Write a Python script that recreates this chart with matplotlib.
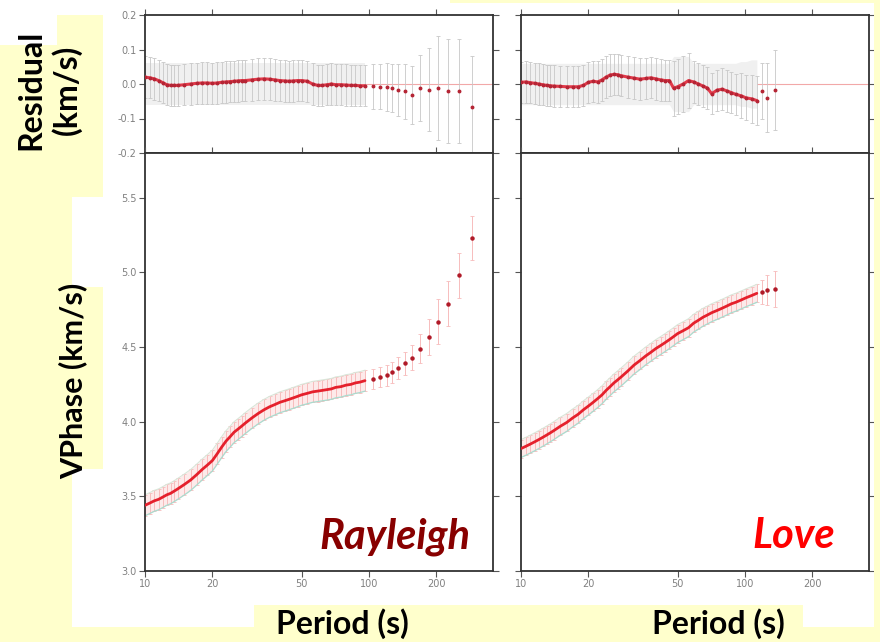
import matplotlib
matplotlib.use("Agg")
import matplotlib.pyplot as plt
from matplotlib.patches import Rectangle
import numpy as np

# ---------------- Rayleigh phase velocity ----------------
ray_period = [10, 10.5, 11, 11.5, 12, 12.5, 13, 13.5, 14, 15, 16, 17, 18, 19, 20,
              21, 22, 23, 24, 25, 26, 27, 28, 30, 32, 34, 36, 38, 40, 42, 44, 46,
              48, 50, 53, 56, 59, 62, 65, 68, 71, 75, 79, 83, 87, 91, 96,
              104, 112, 120, 127, 135, 145, 156, 169, 185, 203, 225, 252, 288]
ray_vphase = [3.44, 3.455, 3.47, 3.48, 3.495, 3.51, 3.52, 3.535, 3.55, 3.58, 3.61,
              3.645, 3.68, 3.71, 3.74, 3.785, 3.83, 3.87, 3.90, 3.93, 3.95,
              3.97, 3.99, 4.025, 4.055, 4.08, 4.10, 4.115, 4.13, 4.14, 4.15, 4.16,
              4.17, 4.18, 4.19, 4.20, 4.205, 4.21, 4.215, 4.22, 4.23, 4.235, 4.245,
              4.25, 4.26, 4.265, 4.275,
              4.285, 4.30, 4.31, 4.33, 4.36, 4.39, 4.43, 4.49, 4.57, 4.67, 4.79,
              4.98, 5.23]
ray_sigma = [0.07] * 47 + [0.065, 0.065, 0.07, 0.07, 0.075, 0.08, 0.085, 0.095,
                           0.12, 0.15, 0.15, 0.15, 0.15]
ray_resid = [0.02, 0.018, 0.015, 0.01, 0.004, -0.002, -0.004, -0.004, -0.004,
             -0.002, 0.0, 0.002, 0.003, 0.003, 0.002, 0.003, 0.005, 0.006, 0.007,
             0.008, 0.009, 0.01, 0.01, 0.012, 0.014, 0.015, 0.014, 0.012, 0.01,
             0.009, 0.008, 0.009, 0.01, 0.01, 0.008, 0.0, -0.004, -0.004, -0.002,
             0.0, -0.002, -0.002, -0.003, -0.004, -0.004, -0.005, -0.005,
             -0.007, -0.008, -0.008, -0.012, -0.017, -0.021, -0.032, -0.012,
             -0.017, -0.012, -0.021, -0.021, -0.068]
ray_resid_sigma = [0.06] * 47 + [0.065, 0.065, 0.07, 0.07, 0.075, 0.08, 0.085,
                                 0.095, 0.12, 0.15, 0.15, 0.15, 0.15]
ray_n_dense = 47

# ---------------- Love phase velocity ----------------
love_period = [10, 10.5, 11, 11.5, 12, 12.5, 13, 13.5, 14, 15, 16, 17, 18, 19, 20,
               21, 22, 23, 24, 25, 26, 27, 28, 30, 32, 34, 36, 38, 40, 42, 44, 46,
               48, 50, 53, 56, 59, 62, 65, 68, 71, 75, 79, 83, 87, 91, 96, 101,
               107, 113, 119, 126, 136]
love_vphase = [3.82, 3.835, 3.85, 3.865, 3.88, 3.895, 3.91, 3.925, 3.94, 3.97,
               3.995, 4.025, 4.05, 4.08, 4.105, 4.13, 4.155, 4.18, 4.21, 4.235,
               4.26, 4.28, 4.30, 4.34, 4.38, 4.41, 4.44, 4.465, 4.49, 4.51, 4.53,
               4.55, 4.57, 4.59, 4.61, 4.63, 4.66, 4.68, 4.70, 4.715, 4.73, 4.745,
               4.76, 4.775, 4.79, 4.80, 4.815, 4.83, 4.845, 4.86, 4.87, 4.88, 4.89]
love_sigma = [0.06] * 50 + [0.08, 0.10, 0.12]
love_resid = [0.005, 0.006, 0.004, 0.002, 0.0, -0.002, -0.004, -0.005, -0.006,
              -0.007, -0.008, -0.008, -0.008, -0.004, 0.005, 0.008, 0.006, 0.012,
              0.02, 0.026, 0.028, 0.027, 0.024, 0.02, 0.017, 0.014, 0.016, 0.018,
              0.015, 0.012, 0.01, 0.01, -0.012, -0.008, 0.0, 0.01, 0.006, 0.0,
              -0.006, -0.012, -0.028, -0.018, -0.015, -0.02, -0.025, -0.03,
              -0.034, -0.04, -0.043, -0.048, -0.02, -0.04, -0.017]
love_resid_sigma = ([0.06] * 32 + [0.08, 0.08, 0.08, 0.08] + [0.06] * 10 +
                    [0.065, 0.065, 0.07, 0.07, 0.08, 0.10, 0.115])
love_n_dense = 50

x_ticks = [10, 20, 50, 100, 200]
x_ticklabels = ["10", "20", "50", "100", "200"]
res_ticks = [-0.2, -0.1, 0.0, 0.1, 0.2]
res_ticklabels = ["-0.2", "-0.1", "0.0", "0.1", "0.2"]
vel_ticks = [3.0, 3.5, 4.0, 4.5, 5.0, 5.5]
vel_ticklabels = ["3.0", "3.5", "4.0", "4.5", "5.0", "5.5"]

W, H = 880, 642
YELLOW = "#ffffcc"
LABEL_FONT = ["Lato", "DejaVu Sans"]

fig = plt.figure(figsize=(W / 100, H / 100), dpi=100)
fig.patch.set_facecolor("white")


def px_box(x0, y0, x1, y1):
    """Rectangle given in pixel coordinates measured from the top-left."""
    return [x0 / W, 1 - y1 / H, (x1 - x0) / W, (y1 - y0) / H]


def yellow(x0, y0, x1, y1):
    l, b, w, h = px_box(x0, y0, x1, y1)
    fig.patches.append(Rectangle((l, b), w, h, transform=fig.transFigure,
                                 facecolor=YELLOW, edgecolor="none", zorder=0))


# highlighted label backgrounds
yellow(0, 45, 103, 197)
yellow(57, 15, 103, 45)
yellow(0, 197, 72, 642)
yellow(57, 287, 103, 469)
yellow(0, 627, 880, 642)
yellow(254, 605, 803, 642)
yellow(450, 0, 880, 3)
yellow(874, 0, 880, 642)


def style_axes(ax, ylim, yticks, yticklabels, show_y, show_x):
    ax.set_xscale("log")
    ax.set_xlim(10, 358)
    ax.set_ylim(*ylim)
    ax.set_xticks(x_ticks)
    ax.xaxis.set_minor_locator(matplotlib.ticker.NullLocator())
    ax.set_xticklabels(x_ticklabels if show_x else [""] * len(x_ticks))
    ax.set_yticks(yticks)
    ax.set_yticklabels(yticklabels if show_y else [""] * len(yticks))
    ax.tick_params(direction="out", length=4, width=0.8, color="#555555",
                   labelsize=7, labelcolor="#808080", pad=2,
                   top=True, right=True)
    for s in ax.spines.values():
        s.set_color("#333333")
        s.set_linewidth(1.3)
    ax.set_facecolor("white")


def draw_residual(ax, period, resid, sig, n_dense):
    p = np.array(period)
    r = np.array(resid)
    s = np.array(sig)
    ax.axhline(0.0, color="#f2a8a8", lw=0.8, zorder=1)
    ax.fill_between(p[:n_dense], r[:n_dense] * 0 - s[:n_dense],
                    r[:n_dense] * 0 + s[:n_dense], color="#f0f0f0", lw=0,
                    zorder=1)
    ax.errorbar(p, r, yerr=s, fmt="none", ecolor="#c8c8c8",
                elinewidth=0.6, capsize=1.5, capthick=0.6, zorder=2)
    ax.plot(p[:n_dense], r[:n_dense], color="#e23a4a", lw=2.2,
            zorder=3, solid_capstyle="round")
    ax.plot(p, r, "o", ms=1.8, color="#b52535", zorder=4)


def draw_velocity(ax, period, vel, sig, n_dense):
    p = np.array(period)
    v = np.array(vel)
    s = np.array(sig)
    ax.fill_between(p[:n_dense], v[:n_dense] - s[:n_dense],
                    v[:n_dense] + s[:n_dense], color="#fdeaea", lw=0, zorder=1)
    ax.errorbar(p, v, yerr=s, fmt="none", ecolor="#f7bcbc",
                elinewidth=0.7, capsize=1.5, capthick=0.6, zorder=2)
    ax.plot(p[:n_dense], v[:n_dense] - s[:n_dense], color="#a9dccf", lw=0.9,
            zorder=2)
    ax.plot(p[:n_dense], v[:n_dense] + s[:n_dense], color="#d9e6d9", lw=0.8,
            zorder=2)
    ax.plot(p[:n_dense], v[:n_dense], color="#e5202c", lw=2.0, zorder=3,
            solid_capstyle="round")
    ax.plot(p[n_dense:], v[n_dense:], "o", ms=2.2, color="#b01a28", zorder=4)


panels = [
    (145, ray_period, ray_vphase, ray_sigma, ray_resid, ray_resid_sigma,
     ray_n_dense, True, "Rayleigh", "#880000", 470),
    (521, love_period, love_vphase, love_sigma, love_resid, love_resid_sigma,
     love_n_dense, False, "Love", "#ff0000", 835),
]

for (x0, per, vel, sig, res, rsig, nd, show_y, name, color, name_x) in panels:
    ax_r = fig.add_axes(px_box(x0, 15, x0 + 348, 153))
    ax_v = fig.add_axes(px_box(x0, 153, x0 + 348, 571))
    style_axes(ax_r, (-0.2, 0.2), res_ticks, res_ticklabels, show_y, False)
    style_axes(ax_v, (3.0, 5.8), vel_ticks, vel_ticklabels, show_y, True)
    draw_residual(ax_r, per, res, rsig, nd)
    draw_velocity(ax_v, per, vel, sig, nd)
    fig.text(name_x / W, 1 - 548 / H, name, ha="right", va="baseline",
             fontsize=30, fontweight="bold", fontstyle="italic", color=color,
             family=LABEL_FONT)
    fig.text((x0 + 197) / W, 1 - 624 / H, "Period (s)", ha="center",
             va="center", fontsize=23, fontweight="bold", color="black",
             family=LABEL_FONT)

fig.text(49 / W, 1 - 90 / H, "Residual\n(km/s)", rotation=90, ha="center",
         va="center", multialignment="center", fontsize=23, fontweight="bold",
         color="black", family=LABEL_FONT, linespacing=1.25)
fig.text(73 / W, 1 - 381 / H, "VPhase (km/s)", rotation=90, ha="center",
         va="center", fontsize=22, fontweight="bold", color="black",
         family=LABEL_FONT)

fig.savefig("out.png", dpi=100, facecolor="white")
